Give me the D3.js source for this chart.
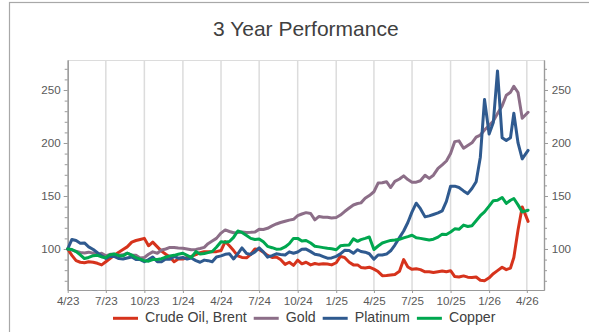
<!DOCTYPE html>
<html>
<head>
<meta charset="utf-8">
<script src="https://cdn.jsdelivr.net/npm/d3@7"></script>
<style>
  body { margin: 0; background: #fff; }
  svg { display: block; font-family: "Liberation Sans", Arial, sans-serif; }
</style>
</head>
<body>
<svg id="chart" width="589" height="332"></svg>
<script>
// Observation dates (three per month), indexed performance relative to April 2023 = 100
const dates = [
  "2023-04-01","2023-04-11","2023-04-21","2023-05-01","2023-05-11","2023-05-21","2023-06-01","2023-06-11","2023-06-21",
  "2023-07-01","2023-07-11","2023-07-21","2023-08-01","2023-08-11","2023-08-21","2023-09-01","2023-09-11","2023-09-21",
  "2023-10-01","2023-10-11","2023-10-21","2023-11-01","2023-11-11","2023-11-21","2023-12-01","2023-12-11","2023-12-21",
  "2024-01-01","2024-01-11","2024-01-21","2024-02-01","2024-02-11","2024-02-21","2024-03-01","2024-03-11","2024-03-21",
  "2024-04-01","2024-04-11","2024-04-21","2024-05-01","2024-05-11","2024-05-21","2024-06-01","2024-06-11","2024-06-21",
  "2024-07-01","2024-07-11","2024-07-21","2024-08-01","2024-08-11","2024-08-21","2024-09-01","2024-09-11","2024-09-21",
  "2024-10-01","2024-10-11","2024-10-21","2024-11-01","2024-11-11","2024-11-21","2024-12-01","2024-12-11","2024-12-21",
  "2025-01-01","2025-01-11","2025-01-21","2025-02-01","2025-02-11","2025-02-21","2025-03-01","2025-03-11","2025-03-21",
  "2025-04-01","2025-04-11","2025-04-21","2025-05-01","2025-05-11","2025-05-21","2025-06-01","2025-06-11","2025-06-21",
  "2025-07-01","2025-07-11","2025-07-21","2025-08-01","2025-08-11","2025-08-21","2025-09-01","2025-09-11","2025-09-21",
  "2025-10-01","2025-10-11","2025-10-21","2025-11-01","2025-11-11","2025-11-21","2025-12-01","2025-12-11","2025-12-21",
  "2026-01-01","2026-01-11","2026-01-21","2026-02-01","2026-02-11","2026-02-21","2026-03-01","2026-03-11","2026-03-21",
  "2026-04-04"
];

const crudeOil = [
  100, 94, 89, 87.5, 87, 88, 87.5, 86.5, 85, 88,
  91, 94, 97, 99.5, 102, 106.5, 108, 109, 110, 103,
  106.5, 102, 98, 95, 92.5, 88, 90.5, 90.5, 92, 93,
  94.6, 96.5, 97.5, 97.5, 97.5, 97.5, 98.5, 107, 103, 98.5,
  93.5, 92, 91.7, 95, 100, 99.5, 97, 94, 92, 92.5,
  90, 85.5, 87.5, 84.5, 89.5, 86, 87.5, 85, 86.3, 85.5,
  86, 85.8, 85, 87, 93, 92, 87.5, 85, 85, 82.6,
  82, 82.8, 81, 78.7, 74.8, 75, 75.5, 76, 79, 90,
  83, 80.8, 81.3, 80.5, 78.5, 78.5, 77.8, 78.6, 79.3, 78.5,
  79.5, 74, 73.5, 74.6, 73.4, 73, 73.5, 70.5, 70, 72.8,
  76.7, 79.6, 82.8, 80.5, 82, 92, 118, 139.7, 126
];

const gold = [
  100, 99, 97.8, 96.8, 96.2, 97, 96, 94.5, 96, 93.5,
  95, 95, 94, 94.5, 96, 94.2, 94, 91.5, 92, 95,
  97.3, 96, 99, 100, 101.5, 101.4, 101, 100.7, 100, 99.2,
  99.6, 100.5, 101.5, 105, 107.5, 110, 115, 118, 116.5, 115.3,
  115.5, 116, 115.6, 115.7, 116, 118.5, 118.4, 119.5, 121.8, 123.6,
  125, 126.2, 127.2, 128, 131.4, 133, 134.3, 133.5, 127.5, 130.7,
  130, 130, 129.2, 129.7, 132, 135.3, 138.6, 141.5, 142.9, 143.5,
  147.8, 150.4, 154, 162.2, 162.5, 163.5, 158, 163.8, 166, 169,
  165.5, 163, 163, 164.4, 169.5, 166.6, 169.6, 176, 179.4, 183,
  190, 201.3, 202, 195, 197.7, 200.2, 205.5, 207.5, 212.3, 216.4,
  220.7, 227.7, 235, 245, 247.8, 253.5, 247.6, 223.3, 229
];

const platinum = [
  100, 109, 108, 105.5, 105.7, 102, 99.5, 96.5, 93.5, 91,
  93, 93, 91, 90.5, 91.5, 92.5, 90, 90, 88, 90,
  92.5, 88, 88, 90.6, 90.3, 93, 91.3, 92, 90.5, 91.5,
  89, 87.5, 89.5, 89, 88, 92.5, 93.5, 95, 95.5, 90.6,
  95.5, 101, 95.7, 94.9, 97.3, 101, 97.3, 92.3, 93.8, 95.4,
  94.8, 94.3, 97.3, 96, 97.2, 99.7, 99.9, 97.5, 95, 94.4,
  92.8, 91.3, 91.6, 93, 95.4, 98.7, 98.6, 95.9, 99.3, 97.6,
  97, 95.5, 90.3, 94.4, 94.4, 95.2, 98.3, 103.7, 110.7, 117,
  125, 135, 143.2, 138, 130.3, 131.2, 132.5, 134, 136, 145,
  159.2, 159.3, 158, 154.8, 152.2, 157, 163.5, 186.6, 241, 208.5,
  219.3, 268, 205, 202.3, 205, 228, 200, 185, 193
];

const copper = [
  100, 99.5, 97.5, 94.5, 91, 92, 93.7, 94, 92.5, 92,
  94.5, 95.3, 93.7, 93.5, 96, 94.2, 91.8, 90.5, 89, 88.5,
  90, 90, 90.8, 92.4, 93.5, 94, 95, 96, 94, 92,
  97.5, 95.2, 95.7, 96.6, 97.6, 101.6, 106.8, 106.4, 107, 111,
  117, 115.6, 112.8, 110, 109, 109.5, 106.8, 102.5, 101.2, 99.8,
  99.9, 101.9, 105, 110, 110, 107.5, 108, 105.6, 102.6, 102,
  101.3, 100.6, 100.2, 99.3, 103, 103.5, 103.8, 109.5, 107.2, 108.8,
  110, 111.3, 99.5, 102.8, 105.7, 106.9, 108.1, 108.5, 109.2, 110.5,
  111.7, 113, 110.5, 110, 109.2, 108.5, 109.2, 111.2, 114, 113.7,
  116, 119, 118.6, 122.5, 121.2, 122, 126.6, 131.4, 135, 140.4,
  145.6, 146, 148.6, 143, 146, 147.6, 141.6, 135, 136.6
];

const seriesNames = ["Crude Oil, Brent", "Gold", "Platinum", "Copper"];
const seriesColors = ["#d6331c", "#8c6e88", "#2f5a8f", "#00a74f"];
const xTickLabels = ["4/23","7/23","10/23","1/24","4/24","7/24","10/24","1/25","4/25","7/25","10/25","1/26","4/26"];
const yTicks = [100, 150, 200, 250];
const yMinorTicks = [70, 80, 90, 110, 120, 130, 140, 160, 170, 180, 190, 210, 220, 230, 240, 260, 270];

// ---- layout ----
const W = 589, H = 332;
const plot = { left: 67.7, right: 544, top: 60, bottom: 290 };
const axisColor = "#9a9a9a";
const labelColor = "#595959";
const gridColor = "#dcdcdc";

const parseDate = d3.timeParse("%Y-%m-%d");
const parseTick = d3.timeParse("%m/%y");
const dateValues = dates.map(parseDate);
const tickDates = xTickLabels.map(parseTick);

const x = d3.scaleTime()
  .domain([new Date(2023, 3, 1), new Date(2026, 4, 12)])
  .range([plot.left, plot.right]);
const y = d3.scaleLinear()
  .domain([61.3, 278.3])
  .range([plot.bottom, plot.top]);

const svg = d3.select("#chart");

// outer frame
svg.append("rect")
  .attr("x", 9.5).attr("y", 2.5)
  .attr("width", W + 20).attr("height", H + 20)
  .attr("fill", "none").attr("stroke", "#a8a8a8").attr("stroke-width", 1.2);

// title
svg.append("text")
  .attr("x", (plot.left + plot.right) / 2).attr("y", 35.5)
  .attr("text-anchor", "middle")
  .attr("font-size", 21).attr("fill", "#404040")
  .text("3 Year Performance");

// vertical gridlines at quarter ticks
svg.append("g").selectAll("line")
  .data(tickDates.slice(1))
  .join("line")
  .attr("x1", d => x(d)).attr("x2", d => x(d))
  .attr("y1", plot.top).attr("y2", plot.bottom)
  .attr("stroke", gridColor).attr("stroke-width", 1.5);

// top border of plot
svg.append("line")
  .attr("x1", plot.left).attr("x2", plot.right)
  .attr("y1", plot.top + 0.5).attr("y2", plot.top + 0.5)
  .attr("stroke", gridColor).attr("stroke-width", 1);

function styleAxis(g) {
  g.selectAll("path").attr("stroke", axisColor).attr("stroke-width", 1.2);
  g.selectAll("line").attr("stroke", axisColor);
  g.selectAll("text").attr("fill", labelColor).attr("font-size", 11.6)
    .attr("font-family", '"Liberation Sans", Arial, sans-serif');
}

// left axis: major + minor ticks
svg.append("g").attr("transform", `translate(${plot.left},0)`)
  .call(d3.axisLeft(y).tickValues(yMinorTicks).tickSize(3).tickSizeOuter(0).tickFormat(""))
  .call(styleAxis);
svg.append("g").attr("transform", `translate(${plot.left},0)`)
  .call(d3.axisLeft(y).tickValues(yTicks).tickSize(4).tickPadding(3).tickSizeOuter(0))
  .call(styleAxis);

// right axis mirrors the left one
svg.append("g").attr("transform", `translate(${plot.right},0)`)
  .call(d3.axisRight(y).tickValues(yMinorTicks).tickSize(3).tickSizeOuter(0).tickFormat(""))
  .call(styleAxis);
svg.append("g").attr("transform", `translate(${plot.right},0)`)
  .call(d3.axisRight(y).tickValues(yTicks).tickSize(4).tickPadding(3.7).tickSizeOuter(0))
  .call(styleAxis);

// bottom axis with quarterly labels
svg.append("g").attr("transform", `translate(0,${plot.bottom})`)
  .call(d3.axisBottom(x).tickValues(tickDates).tickSize(3).tickPadding(3.3).tickSizeOuter(0)
    .tickFormat((d, i) => xTickLabels[i]))
  .call(styleAxis);

// series lines
const seriesData = [crudeOil, gold, platinum, copper];
const line = d3.line()
  .x((v, i) => x(dateValues[i]))
  .y(v => y(v))
  .curve(d3.curveLinear);

svg.append("g").selectAll("path")
  .data(seriesData)
  .join("path")
  .attr("d", d => line(d))
  .attr("fill", "none")
  .attr("stroke", (d, i) => seriesColors[i])
  .attr("stroke-width", 3)
  .attr("stroke-linejoin", "round")
  .attr("stroke-linecap", "round");

// legend along the bottom
const legend = svg.append("g");
let lx = 113;
const ly = 318.3;
seriesNames.forEach((name, i) => {
  legend.append("line")
    .attr("x1", lx).attr("x2", lx + 25)
    .attr("y1", ly).attr("y2", ly)
    .attr("stroke", seriesColors[i]).attr("stroke-width", 3);
  const t = legend.append("text")
    .attr("x", lx + 32).attr("y", 321.5)
    .attr("font-size", 14.2).attr("fill", "#404040")
    .text(name);
  lx += 32 + t.node().getComputedTextLength() + 7;
});
</script>
</body>
</html>
